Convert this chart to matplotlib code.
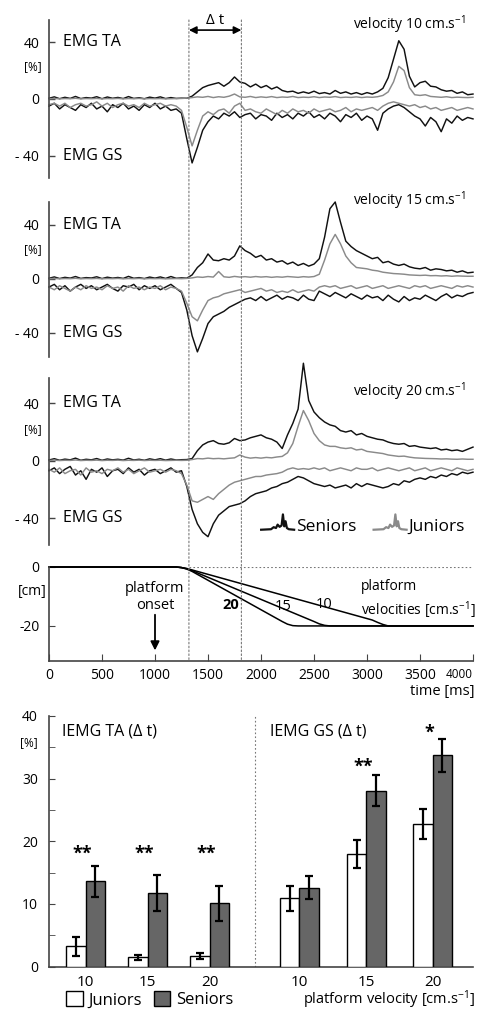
import numpy as np
import matplotlib
matplotlib.use('Agg')
import matplotlib.pyplot as plt
from matplotlib.patches import Patch, ConnectionPatch
from matplotlib.lines import Line2D
from matplotlib.legend_handler import HandlerBase

plt.rcParams['font.family'] = ['Open Sans', 'DejaVu Sans']
plt.rcParams['mathtext.default'] = 'regular'

# ---------------- data ----------------
time_ms = np.arange(0, 4001, 50)

ta_sen_10 = [0.5, 1.5, 0.2, 1.2, 0.4, 1.8, 0.3, 1.0, 0.6, 1.6,
             0.2, 1.4, 0.5, 1.1, 0.3, 1.7, 0.4, 0.9, 0.2, 1.3,
             0.6, 1.5, 0.3, 1.0, 0.4, 0.6, 0.5, 2.0, 5.0, 8.0,
             9.5, 10.5, 11.5, 9.0, 11.5, 15.5, 12.0, 11.0, 8.5, 10.5,
             8.0, 9.5, 7.0, 8.5, 6.0, 5.0, 5.5, 4.0, 5.0, 4.0,
             5.5, 3.8, 4.5, 3.5, 6.0, 4.0, 5.0, 3.5, 4.5, 3.2,
             4.5, 3.5, 5.0, 7.5, 15.0, 28.0, 41.0, 35.0, 16.0, 8.5,
             11.5, 12.5, 9.0, 8.5, 6.5, 5.5, 6.0, 4.0, 5.0, 3.0,
             3.5]
ta_jun_10 = [0.2, 0.4, 0.1, 0.3, 0.2, 0.5, 0.1, 0.3, 0.2, 0.4,
             0.1, 0.3, 0.2, 0.4, 0.1, 0.3, 0.2, 0.4, 0.1, 0.3,
             0.2, 0.3, 0.1, 0.2, 0.3, 0.4, 0.6, 1.0, 1.5, 1.2,
             1.8, 1.0, 1.6, 1.2, 2.0, 3.5, 1.5, 1.2, 1.8, 1.0,
             1.5, 1.1, 1.7, 1.0, 1.4, 1.2, 1.8, 1.0, 1.3, 1.1,
             1.6, 1.0, 1.4, 1.2, 1.7, 1.0, 1.3, 1.1, 1.5, 1.0,
             1.4, 1.2, 1.6, 2.5, 5.0, 12.0, 23.0, 20.0, 8.0, 3.0,
             2.5, 3.0, 1.8, 1.5, 1.2, 1.6, 1.0, 1.3, 1.1, 1.0,
             1.2]
gs_sen_10 = [-5, -3, -7, -4, -6, -8, -4, -6, -3, -7,
             -5, -9, -4, -6, -3, -7, -5, -8, -4, -6,
             -3, -7, -5, -8, -7, -10, -28, -45, -34, -22,
             -16, -12, -14, -10, -12, -9, -13, -11, -10, -14,
             -11, -12, -15, -10, -13, -11, -14, -10, -12, -9,
             -13, -11, -14, -10, -12, -16, -11, -13, -10, -15,
             -12, -14, -22, -10, -7, -5, -4, -6, -9, -12,
             -14, -19, -13, -16, -23, -14, -17, -12, -15, -13,
             -14]
gs_jun_10 = [-4, -3, -5, -3, -6, -4, -3, -5, -4, -2,
             -5, -3, -6, -4, -3, -5, -4, -6, -3, -5,
             -4, -3, -5, -4, -5, -8, -20, -33, -22, -12,
             -9, -11, -8, -7, -10, -5, -3, -8, -7, -9,
             -10, -7, -9, -11, -8, -10, -7, -9, -8, -10,
             -7, -9, -8, -7, -9, -8, -6, -9, -7, -8,
             -7, -6, -8, -5, -3, -2, -3, -4, -5, -4,
             -6, -5, -7, -6, -8, -7, -6, -8, -7, -6,
             -7]

ta_sen_15 = [0.5, 1.5, 0.3, 1.2, 0.6, 1.8, 0.4, 1.0, 0.7, 1.6,
             0.3, 1.3, 0.6, 1.1, 0.4, 1.9, 0.5, 1.0, 0.3, 1.4,
             0.6, 1.5, 0.4, 1.8, 0.5, 0.8, 0.6, 3.0, 8.5, 12.0,
             18.5, 14.0, 13.5, 15.0, 14.0, 17.0, 24.5, 21.0, 19.0, 16.0,
             17.5, 14.0, 15.0, 12.5, 13.5, 11.0, 12.5, 10.0, 11.5, 9.5,
             11.0, 15.0, 31.0, 52.0, 57.0, 42.0, 28.0, 24.0, 21.0, 19.0,
             17.0, 15.0, 16.0, 12.0, 13.0, 11.0, 10.0, 11.0, 9.0, 8.0,
             7.5, 8.5, 6.5, 7.5, 7.0, 6.0, 6.5, 5.0, 6.0, 4.5,
             5.0]
ta_jun_15 = [0.2, 0.4, 0.1, 0.3, 0.2, 0.5, 0.1, 0.3, 0.2, 0.4,
             0.1, 0.3, 0.2, 0.4, 0.1, 0.3, 0.2, 0.4, 0.1, 0.3,
             0.2, 0.3, 0.1, 0.2, 0.3, 0.2, 0.4, 0.8, 1.5, 1.2,
             1.8, 1.4, 5.5, 1.6, 1.2, 1.9, 1.4, 1.7, 1.3, 1.8,
             1.4, 1.7, 1.2, 1.6, 1.3, 1.8, 1.5, 1.2, 1.7, 1.4,
             1.8, 3.5, 14.0, 26.0, 33.0, 26.0, 17.0, 12.0, 8.5, 8.0,
             7.5, 6.5, 6.0, 5.0, 4.5, 4.0, 3.8, 3.5, 3.0, 2.8,
             2.6, 2.8, 2.4, 2.5, 2.2, 2.4, 2.0, 2.3, 2.1, 2.0,
             2.0]
gs_sen_15 = [-6, -4, -8, -5, -9, -6, -4, -7, -5, -8,
             -6, -4, -7, -9, -5, -6, -4, -8, -5, -7,
             -5, -8, -6, -4, -7, -10, -23, -42, -54, -44,
             -33, -28, -26, -24, -21, -19, -17, -15, -14, -16,
             -13, -16, -14, -12, -15, -13, -14, -16, -12, -15,
             -16, -9, -11, -13, -10, -12, -14, -11, -13, -15,
             -12, -14, -13, -16, -12, -15, -17, -13, -16, -14,
             -15, -12, -14, -16, -13, -11, -14, -12, -13, -11,
             -10]
gs_jun_15 = [-6, -8, -5, -7, -9, -6, -8, -5, -7, -6,
             -8, -5, -7, -6, -9, -5, -7, -6, -8, -6,
             -7, -5, -8, -6, -7, -9, -18, -28, -31, -23,
             -16, -14, -13, -11, -10, -9, -8, -10, -9, -8,
             -7, -9, -8, -10, -9, -10, -8, -10, -9, -8,
             -9, -6, -5, -6, -5, -7, -6, -5, -7, -6,
             -5, -7, -6, -5, -7, -6, -5, -6, -7, -5,
             -6, -5, -7, -6, -5, -6, -7, -5, -6, -5,
             -6]

ta_sen_20 = [0.5, 1.4, 0.3, 1.1, 0.6, 1.8, 0.3, 1.0, 0.6, 1.5,
             0.3, 1.2, 0.6, 1.0, 0.4, 1.7, 0.5, 1.0, 0.3, 1.3,
             0.6, 1.4, 0.4, 1.2, 0.5, 0.7, 0.8, 1.5, 7.0, 11.0,
             13.0, 14.0, 12.0, 11.5, 12.5, 15.5, 14.0, 14.5, 16.0, 17.0,
             18.0, 16.0, 15.0, 13.0, 8.5, 18.0, 26.0, 36.0, 68.0, 42.0,
             34.0, 30.0, 27.0, 25.0, 24.0, 21.0, 20.0, 21.0, 18.0, 19.0,
             17.0, 16.0, 15.0, 14.5, 13.0, 12.0, 11.5, 12.0, 10.0, 10.5,
             9.5, 9.0, 8.5, 9.0, 7.5, 8.0, 7.0, 7.5, 6.5, 8.0,
             9.5]
ta_jun_20 = [0.2, 0.4, 0.1, 0.3, 0.2, 0.5, 0.1, 0.3, 0.2, 0.4,
             0.1, 0.3, 0.2, 0.4, 0.1, 0.3, 0.2, 0.4, 0.1, 0.3,
             0.2, 0.3, 0.1, 0.2, 0.3, 0.2, 0.3, 0.8, 1.5, 1.3,
             1.8, 1.4, 1.6, 1.3, 1.7, 2.0, 4.0, 2.5, 1.8, 2.2,
             1.8, 2.3, 2.0, 2.6, 3.0, 5.5, 12.0, 24.0, 35.0, 28.0,
             19.0, 14.0, 11.0, 10.0, 10.0, 9.0, 8.5, 9.0, 7.5, 8.0,
             6.5, 6.0, 5.5, 5.0, 4.0, 3.5, 3.0, 3.2, 2.5, 2.0,
             1.8, 1.6, 1.5, 1.4, 1.2, 1.3, 1.1, 1.0, 1.2, 1.0,
             1.0]
gs_sen_20 = [-7, -5, -9, -6, -4, -10, -7, -13, -6, -8,
             -5, -11, -7, -6, -9, -5, -8, -6, -10, -7,
             -6, -9, -7, -5, -8, -7, -18, -34, -44, -50,
             -53, -44, -38, -35, -32, -31, -30, -28, -25, -23,
             -22, -21, -19, -18, -16, -15, -13, -11, -12, -14,
             -16, -17, -18, -17, -19, -18, -17, -19, -16, -18,
             -16, -17, -18, -19, -18, -16, -17, -14, -15, -13,
             -12, -13, -11, -12, -10, -11, -9, -10, -8, -9,
             -8]
gs_jun_20 = [-6, -8, -5, -9, -7, -6, -10, -5, -8, -7,
             -9, -6, -7, -5, -8, -6, -9, -7, -5, -8,
             -7, -6, -8, -6, -7, -9, -17, -28, -29, -27,
             -25, -27, -23, -20, -17, -15, -14, -13, -12, -11,
             -11, -10, -9.5, -9, -8, -6, -5, -6, -5.5, -6,
             -5, -6, -5, -7, -6, -5, -6, -7, -5, -6,
             -6, -5, -7, -6, -5, -6, -7, -6, -5, -7,
             -6, -5, -7, -6, -5, -6, -7, -5, -6, -7,
             -6]

# platform displacement [cm]
plat_t_20 = [0, 1200, 1250, 1300, 1350, 1400, 2200, 2250, 2300, 2350, 4000]
plat_d_20 = [0, 0, -0.2, -0.7, -1.5, -2.5, -18.5, -19.4, -19.9, -20, -20]
plat_t_15 = [0, 1200, 1250, 1300, 1350, 1400, 2500, 2550, 2600, 2650, 4000]
plat_d_15 = [0, 0, -0.2, -0.6, -1.2, -2.0, -18.5, -19.3, -19.8, -20, -20]
plat_t_10 = [0, 1200, 1250, 1300, 1350, 1400, 3050, 3100, 3150, 3200, 4000]
plat_d_10 = [0, 0, -0.2, -0.5, -1.0, -1.5, -18.0, -18.8, -19.5, -20, -20]

dt_window = [1320, 1815]
onset_ms = 1000

# bar chart (IEMG in delta t)
velocities = ['10', '15', '20']
ta_juniors = [3.2, 1.5, 1.7]
ta_juniors_err = [1.5, 0.4, 0.5]
ta_seniors = [13.6, 11.7, 10.1]
ta_seniors_err = [2.5, 2.9, 2.8]
gs_juniors = [10.9, 18.0, 22.7]
gs_juniors_err = [2.0, 2.2, 2.4]
gs_seniors = [12.6, 28.1, 33.7]
gs_seniors_err = [1.8, 2.5, 2.7]
ta_stars = ['**', '**', '**']
ta_star_levels = [18.0, 18.0, 18.0]
gs_stars = ['', '**', '*']
gs_star_levels = [0, 31.9, 37.4]

# ---------------- style ----------------
W, H = 480, 1010
SEN = '#111111'
JUN = '#8a8a8a'
SEN_BAR = '#666666'
SPINE = '#444444'

fig = plt.figure(figsize=(W / 100, H / 100), dpi=100)


def px_axes(x0, y0, x1, y1):
    return fig.add_axes([x0 / W, 1 - y1 / H, (x1 - x0) / W, (y1 - y0) / H])


def ftext(x, y, s, **kw):
    return fig.text(x / W, 1 - y / H, s, **kw)


class SpikeHandler(HandlerBase):
    def create_artists(self, legend, orig_handle, xdescent, ydescent,
                       width, height, fontsize, trans):
        xs = np.array([0.0, 0.3, 0.38, 0.45, 0.5, 0.56, 0.62, 0.66, 0.7, 0.74, 0.78, 0.84, 1.0])
        ys = np.array([0.05, 0.08, 0.2, 0.15, 0.35, 0.22, 0.3, 0.95, 0.25, 0.55, 0.15, 0.08, 0.05])
        ln = Line2D(xs * width - xdescent, ys * height * 1.4 - ydescent,
                    color=orig_handle.get_color(), lw=1.6)
        ln.set_transform(trans)
        return [ln]


def style_left(ax):
    for s in ['top', 'right']:
        ax.spines[s].set_visible(False)
    ax.spines['left'].set_color(SPINE)
    ax.spines['left'].set_linewidth(1.2)
    ax.spines['bottom'].set_color(SPINE)
    ax.spines['bottom'].set_linewidth(1.2)
    ax.patch.set_alpha(0)


def emg_panel(box, ylim, ta_s, ta_j, gs_s, gs_j):
    ax = px_axes(*box)
    for y, c in [(gs_s, SEN), (ta_s, SEN), (gs_j, JUN), (ta_j, JUN)]:
        ax.plot(time_ms, y, color=c, lw=1.05, clip_on=False)
    ax.set_xlim(0, 4000)
    ax.set_ylim(*ylim)
    style_left(ax)
    ax.spines['bottom'].set_visible(False)
    ax.set_xticks([])
    ax.set_yticks([40, 0, -40])
    ax.set_yticklabels(['40', '0', '- 40'])
    ax.tick_params(axis='y', direction='in', length=4, pad=7, labelsize=10,
                   color=SPINE, width=1.0)
    ax.text(130, 40, 'EMG TA', fontsize=11.5, va='center', ha='left')
    ax.text(130, -40, 'EMG GS', fontsize=11.5, va='center', ha='left')
    return ax


ax1 = emg_panel((49, 20, 473, 178), (-55.6, 55.6), ta_sen_10, ta_jun_10, gs_sen_10, gs_jun_10)
ax2 = emg_panel((49, 202, 473, 357), (-57.8, 57.0), ta_sen_15, ta_jun_15, gs_sen_15, gs_jun_15)
ax3 = emg_panel((49, 378, 473, 545), (-58.8, 57.7), ta_sen_20, ta_jun_20, gs_sen_20, gs_jun_20)

for y in [67, 250, 430]:
    ftext(33, y, '[%]', fontsize=8.5, ha='center', va='center')
for y, v in [(25, '10'), (201, '15'), (392, '20')]:
    ftext(466, y, 'velocity %s cm.s$^{-1}$' % v, fontsize=10, ha='right', va='center')

# delta t arrow
ax1.annotate('', xy=(dt_window[1], 48.5), xytext=(dt_window[0], 48.5),
             arrowprops=dict(arrowstyle='<|-|>', color='black', lw=1.2,
                             mutation_scale=11, shrinkA=0, shrinkB=0))
ftext(215, 21, 'Δ t', fontsize=11, ha='center', va='center')

# legend in third panel
hs = [Line2D([], [], color=SEN, label='Seniors'), Line2D([], [], color=JUN, label='Juniors')]
ax3.legend(handles=hs, handler_map={Line2D: SpikeHandler()}, loc='lower right',
           bbox_to_anchor=(1.005, 0.0), ncol=2, frameon=False, fontsize=12.5,
           handlelength=1.9, handletextpad=0.1, columnspacing=1.0, borderaxespad=0.2)

# ---------------- platform panel ----------------
axp = px_axes(49, 567, 473, 661)
for t, d in [(plat_t_20, plat_d_20), (plat_t_15, plat_d_15), (plat_t_10, plat_d_10)]:
    axp.plot(t, d, color='black', lw=1.1, clip_on=False)
axp.hlines(0, dt_window[0], 4000, colors='#777777', linestyles=(0, (1.5, 2)), lw=0.8)
axp.set_xlim(0, 4000)
axp.set_ylim(-31.9, 0)
style_left(axp)
axp.set_yticks([0, -20])
axp.set_yticklabels(['0', '-20'])
axp.set_xticks(np.arange(0, 4001, 500))
axp.set_xticklabels([str(v) for v in range(0, 4001, 500)])
axp.tick_params(axis='y', direction='in', length=4, pad=7, labelsize=10, color=SPINE)
axp.tick_params(axis='x', direction='in', length=5, pad=5, labelsize=10, color=SPINE)
lbls = axp.get_xticklabels()
lbls[-1].set_fontsize(8.5)
lbls[-1].set_ha('right')
ftext(32, 592, '[cm]', fontsize=10, ha='center', va='center')
ftext(475, 692, 'time [ms]', fontsize=10.5, ha='right', va='center')
ftext(155, 597, 'platform\nonset', fontsize=10.5, ha='center', va='center', linespacing=1.25)
axp.annotate('', xy=(onset_ms, -28.3), xytext=(onset_ms, -16.2),
             arrowprops=dict(arrowstyle='-|>', color='black', lw=1.3,
                             mutation_scale=13, shrinkA=0, shrinkB=0))
ftext(231, 605, '20', fontsize=10.5, fontweight='bold', ha='center', va='center')
ftext(283, 606, '15', fontsize=10.5, ha='center', va='center')
ftext(324, 604, '10', fontsize=10.5, ha='center', va='center')
ftext(361, 600, 'platform\nvelocities [cm.s$^{-1}$]', fontsize=10, ha='left',
      va='center', linespacing=1.3)

# dotted verticals across panels
for t in dt_window:
    con = ConnectionPatch(xyA=(t, ax1.get_ylim()[1]), coordsA=ax1.transData,
                          xyB=(t, axp.get_ylim()[0]), coordsB=axp.transData,
                          color='#777777', lw=0.8, linestyle=(0, (1.5, 2)))
    fig.add_artist(con)

# ---------------- bar chart ----------------
axb = px_axes(49, 716, 473, 966.5)
group_pos = np.array([0, 1, 2, 3.45, 4.53, 5.6])
bw = 0.315
juniors = ta_juniors + gs_juniors
juniors_err = ta_juniors_err + gs_juniors_err
seniors = ta_seniors + gs_seniors
seniors_err = ta_seniors_err + gs_seniors_err
ekw = dict(ecolor='black', elinewidth=1.6, capsize=3, capthick=1.6)
axb.bar(group_pos - bw / 2, juniors, bw, color='white', edgecolor='black', lw=1.0,
        yerr=juniors_err, error_kw=ekw, zorder=3)
axb.bar(group_pos + bw / 2, seniors, bw, color=SEN_BAR, edgecolor='black', lw=1.0,
        yerr=seniors_err, error_kw=ekw, zorder=3)
stars = ta_stars + gs_stars
star_lv = ta_star_levels + gs_star_levels
for x, s, lv in zip(group_pos, stars, star_lv):
    if s:
        axb.text(x - 0.05, lv, s, fontsize=13, fontweight='bold', ha='center', va='center')
axb.axvline(2.73, color='#777777', lw=0.8, linestyle=(0, (1.5, 2)), zorder=1)
axb.set_xlim(-0.59, 6.25)
axb.set_ylim(0, 40)
style_left(axb)
axb.set_yticks([0, 10, 20, 30, 40])
axb.set_yticks([5, 15, 25, 35], minor=True)
axb.tick_params(axis='y', which='both', direction='in', length=4, pad=8, labelsize=10,
                color=SPINE)
axb.set_xticks(group_pos)
axb.set_xticklabels(velocities + velocities)
axb.tick_params(axis='x', length=0, pad=6, labelsize=11)
ftext(29, 743, '[%]', fontsize=8.5, ha='center', va='center')
ftext(62, 732, 'IEMG TA (Δ t)', fontsize=11.5, ha='left', va='center')
ftext(270, 732, 'IEMG GS (Δ t)', fontsize=11.5, ha='left', va='center')
hb = [Patch(facecolor='white', edgecolor='black', label='Juniors'),
      Patch(facecolor=SEN_BAR, edgecolor='black', label='Seniors')]
axb.legend(handles=hb, loc='center left', bbox_to_anchor=(0.04, -0.133), ncol=2,
           frameon=False, fontsize=12, handlelength=1.0, handleheight=1.0,
           handletextpad=0.35, columnspacing=0.7, borderaxespad=0, borderpad=0)
ftext(475, 1000, 'platform velocity [cm.s$^{-1}$]', fontsize=10.5, ha='right', va='center')

fig.savefig('out.png', dpi=100)
